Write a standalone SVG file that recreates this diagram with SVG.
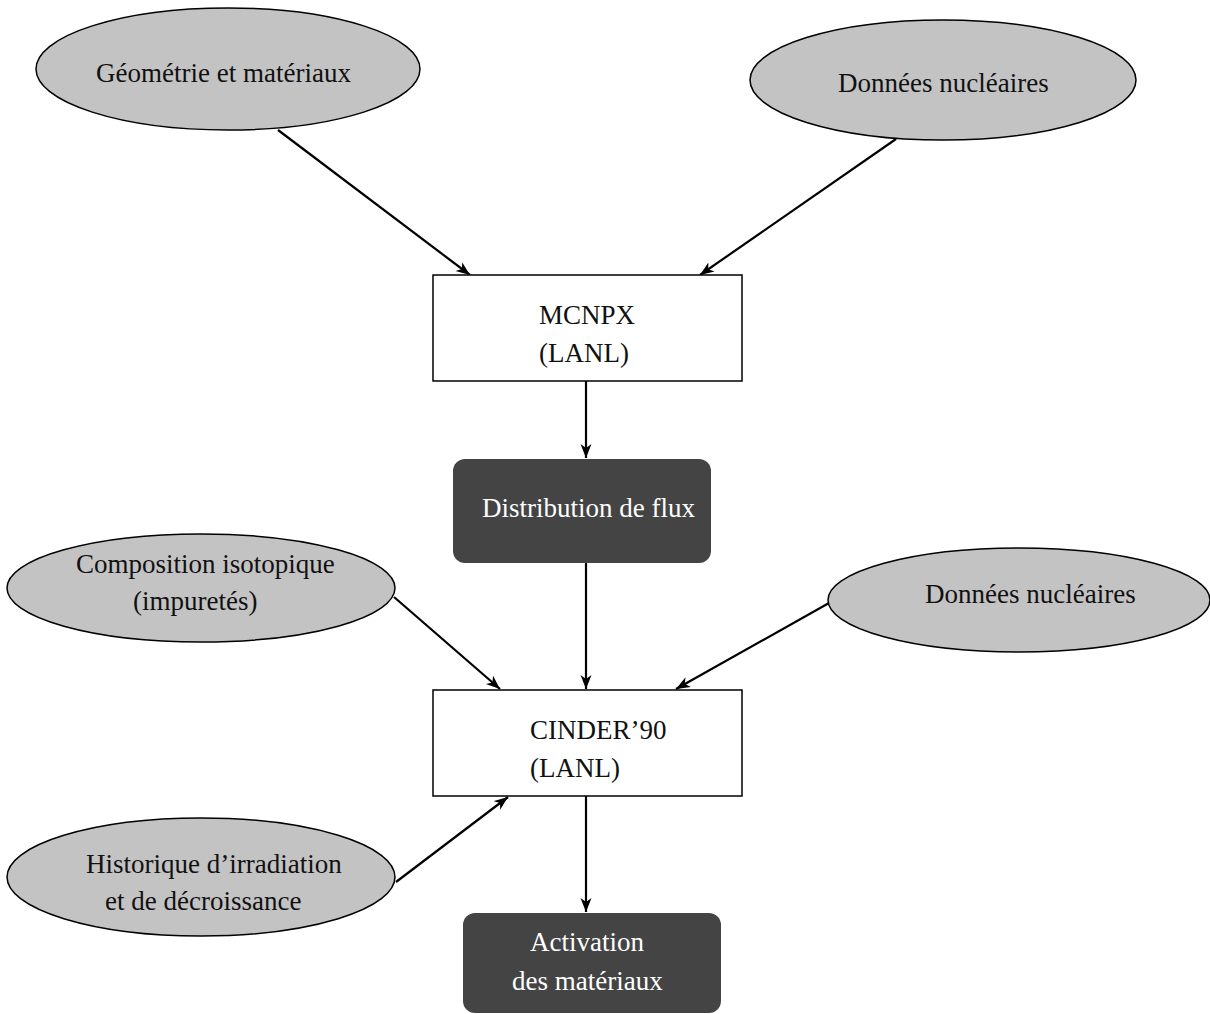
<svg xmlns="http://www.w3.org/2000/svg" width="1210" height="1014" viewBox="0 0 1210 1014">
  <style>
    .bg { fill: #ffffff; }
    .data { fill: #c3c3c3; stroke: #000; stroke-width: 1.5; }
    .code { fill: #ffffff; stroke: #000; stroke-width: 1.5; }
    .result { fill: #444444; stroke: none; }
    text { font-size: 27px; fill: #111; }
    .light { fill: #ffffff; }
    .edge { stroke: #000; stroke-width: 2.2; fill: none; marker-end: url(#head); }
  </style>
  <defs>
    <marker id="head" markerUnits="userSpaceOnUse" markerWidth="16" markerHeight="12" refX="14" refY="5.5" orient="auto">
      <path d="M0,0 L14,5.5 L0,11 L4,5.5 z" fill="#000"/>
    </marker>
  </defs>
  <rect class="bg" x="0" y="0" width="1210" height="1014"/>

  <g id="connectors">
    <line class="edge" x1="278" y1="130" x2="470" y2="275"/>
    <line class="edge" x1="896" y1="139" x2="700" y2="275"/>
    <line class="edge" x1="586" y1="381" x2="586" y2="458"/>
    <line class="edge" x1="586" y1="563" x2="586" y2="689"/>
    <line class="edge" x1="394" y1="597" x2="500" y2="689"/>
    <line class="edge" x1="829" y1="603" x2="676" y2="689"/>
    <line class="edge" x1="396" y1="882" x2="508" y2="797"/>
    <line class="edge" x1="586" y1="796" x2="586" y2="912"/>
  </g>

  <g font-family="Liberation Serif, Times New Roman, serif">
    <g id="geometrie">
      <ellipse class="data" cx="228" cy="69" rx="192" ry="61"/>
      <text x="96" y="82">Géométrie et matériaux</text>
    </g>

    <g id="donnees-1">
      <ellipse class="data" cx="943" cy="80" rx="193" ry="60"/>
      <text x="838" y="92">Données nucléaires</text>
    </g>

    <g id="mcnpx">
      <rect class="code" x="433" y="275" width="309" height="106"/>
      <text x="539" y="324">MCNPX</text>
      <text x="539" y="362">(LANL)</text>
    </g>

    <g id="flux">
      <rect class="result" x="453" y="459" width="258" height="104" rx="12" ry="12"/>
      <text class="light" x="482" y="517">Distribution de flux</text>
    </g>

    <g id="composition">
      <ellipse class="data" cx="201" cy="588" rx="194" ry="54"/>
      <text x="76" y="573">Composition isotopique</text>
      <text x="133" y="610">(impuretés)</text>
    </g>

    <g id="donnees-2">
      <ellipse class="data" cx="1019" cy="600" rx="191" ry="52"/>
      <text x="925" y="603">Données nucléaires</text>
    </g>

    <g id="cinder">
      <rect class="code" x="433" y="690" width="309" height="106"/>
      <text x="530" y="739">CINDER’90</text>
      <text x="530" y="777">(LANL)</text>
    </g>

    <g id="historique">
      <ellipse class="data" cx="201" cy="877" rx="194" ry="59"/>
      <text x="86" y="873">Historique d’irradiation</text>
      <text x="105" y="910">et de décroissance</text>
    </g>

    <g id="activation">
      <rect class="result" x="463" y="913" width="258" height="100" rx="12" ry="12"/>
      <text class="light" x="530" y="951">Activation</text>
      <text class="light" x="512" y="990">des matériaux</text>
    </g>
  </g>
</svg>
